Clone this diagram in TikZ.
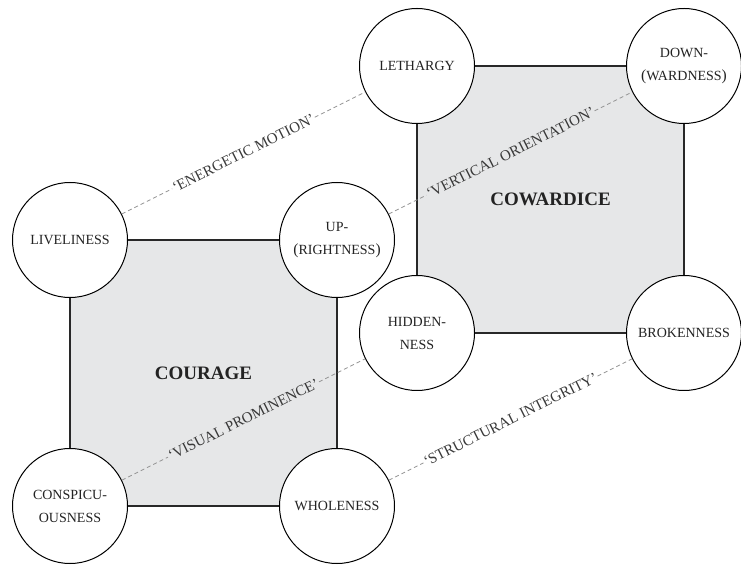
\documentclass[tikz,border=0pt]{standalone}
\usepackage{fontspec}
\setmainfont{Liberation Serif}
\definecolor{sqgray}{RGB}{230,231,232}
\definecolor{sqline}{RGB}{40,40,40}
\definecolor{dashgray}{RGB}{145,145,145}
\definecolor{inkdark}{RGB}{35,35,35}
\tikzset{
  pole/.style={circle, draw=black, line width=1pt, fill=white, minimum size=115pt,
    inner sep=0pt, align=center, text=inkdark,
    font=\fontsize{14}{23}\selectfont},
  edgeline/.style={draw=sqline, line width=2.7pt},
  axis/.style={draw=dashgray, dash pattern=on 4pt off 3pt, line width=0.8pt},
  axislabel/.style={sloped, inner sep=1pt, text=inkdark!90,
    font=\fontsize{15}{16}\selectfont},
  title/.style={text=inkdark, font=\bfseries\fontsize{19}{20}\selectfont}
}
\begin{document}
\begin{tikzpicture}[x=1pt,y=1pt]
\useasboundingbox (0,0) rectangle (741,565);
% corner coordinates
\coordinate (cLIV) at (70,325);
\coordinate (cUP)  at (337,325);
\coordinate (cCON) at (70,59);
\coordinate (cWHO) at (337,59);
\coordinate (cLET) at (417,499);
\coordinate (cDOW) at (684,499);
\coordinate (cHID) at (417,232);
\coordinate (cBRO) at (684,232);
% square fills
\fill[sqgray] (cCON) rectangle (cUP);
\fill[sqgray] (cHID) rectangle (cDOW);
\node[title] (courage) at (203.5,192) {COURAGE};
\node[title] (cowardice) at (550.5,365.5) {COWARDICE};
% circles
\node[pole] (LIV) at (cLIV) {LIVELINESS};
\node[pole] (UP)  at (cUP)  {UP-\\{\fontsize{15.5}{23}\selectfont(}RIGHTNESS{\fontsize{15.5}{23}\selectfont)}};
\node[pole] (CON) at (cCON) {CONSPICU-\\OUSNESS};
\node[pole] (WHO) at (cWHO) {WHOLENESS};
\node[pole] (LET) at (cLET) {LETHARGY};
\node[pole] (DOW) at (cDOW) {DOWN-\\{\fontsize{15.5}{23}\selectfont(}WARDNESS{\fontsize{15.5}{23}\selectfont)}};
\node[pole] (HID) at (cHID) {HIDDEN-\\NESS};
\node[pole] (BRO) at (cBRO) {BROKENNESS};
% square edges
\draw[edgeline] (LIV) -- (UP);
\draw[edgeline] (UP) -- (WHO);
\draw[edgeline] (WHO) -- (CON);
\draw[edgeline] (CON) -- (LIV);
\draw[edgeline] (LET) -- (DOW);
\draw[edgeline] (DOW) -- (BRO);
\draw[edgeline] (BRO) -- (HID);
\draw[edgeline] (HID) -- (LET);
% dimension axes
\path (LIV) -- (LET) node[axislabel, pos=0.5] (lEM) {‘ENERGETIC MOTION’};
\draw[axis] (LIV) -- (lEM.west);
\draw[axis] (lEM.east) -- (LET);
\path (UP) -- (DOW) node[axislabel, pos=0.5] (lVO) {‘VERTICAL ORIENTATION’};
\draw[axis] (UP) -- (lVO.west);
\draw[axis] (lVO.east) -- (DOW);
\path (CON) -- (HID) node[axislabel, pos=0.5] (lVP) {‘VISUAL PROMINENCE’};
\draw[axis] (CON) -- (lVP.west);
\draw[axis] (lVP.east) -- (HID);
\path (WHO) -- (BRO) node[axislabel, pos=0.5] (lSI) {‘STRUCTURAL INTEGRITY’};
\draw[axis] (WHO) -- (lSI.west);
\draw[axis] (lSI.east) -- (BRO);
\end{tikzpicture}
\end{document}
